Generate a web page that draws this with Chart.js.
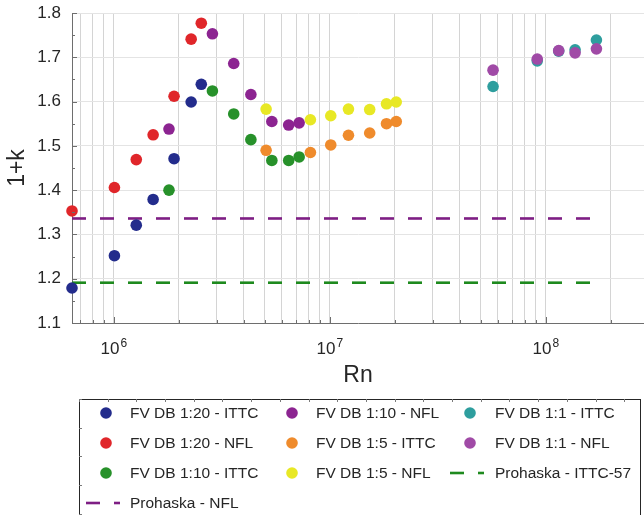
<!DOCTYPE html>
<html>
<head>
<meta charset="utf-8">
<script src="https://cdn.jsdelivr.net/npm/chart.js@4.4.0/dist/chart.umd.min.js"></script>
<style>
  html, body { margin: 0; padding: 0; background: #ffffff; }
  #wrap { width: 644px; height: 515px; }
</style>
</head>
<body>
<div id="wrap"><canvas id="c" width="644" height="515"></canvas></div>
<script>
// Form factor (1+k) against Reynolds number for each model scale and friction line
const rn20 = [6.4e5, 1.006e6, 1.27e6, 1.52e6, 1.90e6, 2.28e6, 2.54e6];
const k20Ittc = [1.179, 1.252, 1.321, 1.379, 1.471, 1.599, 1.639];
const k20Nfl = [1.353, 1.406, 1.469, 1.525, 1.612, 1.741, 1.777];

const rn10 = [1.80e6, 2.86e6, 3.59e6, 4.31e6, 5.39e6, 6.45e6, 7.21e6];
const k10Ittc = [1.400, 1.624, 1.572, 1.514, 1.467, 1.467, 1.475];
const k10Nfl = [1.538, 1.753, 1.686, 1.616, 1.555, 1.547, 1.552];

const rn5 = [5.07e6, 8.13e6, 1.01e7, 1.22e7, 1.53e7, 1.83e7, 2.03e7];
const k5Ittc = [1.490, 1.485, 1.502, 1.524, 1.529, 1.550, 1.555];
const k5Nfl = [1.583, 1.559, 1.568, 1.583, 1.582, 1.595, 1.599];

const rn1 = [5.70e7, 9.13e7, 1.148e8, 1.367e8, 1.716e8];
const k1Ittc = [1.634, 1.692, 1.714, 1.717, 1.739];
const k1Nfl = [1.671, 1.696, 1.715, 1.710, 1.719];

// Prohaska estimates, constant over the Reynolds range
const prohaskaRn = [6.4e5, 1.716e8];
const prohaskaIttc = [1.191, 1.191];
const prohaskaNfl = [1.336, 1.336];

const seriesLabels = [
  'FV DB 1:20 - ITTC', 'FV DB 1:20 - NFL', 'FV DB 1:10 - ITTC',
  'FV DB 1:10 - NFL', 'FV DB 1:5 - ITTC', 'FV DB 1:5 - NFL',
  'FV DB 1:1 - ITTC', 'FV DB 1:1 - NFL', 'Prohaska - ITTC-57', 'Prohaska - NFL'
];

const yTicks = [1.1, 1.2, 1.3, 1.4, 1.5, 1.6, 1.7, 1.8];
const xRange = [6.4e5, 2.85e8];

const colors = ['#232c8c', '#e0262a', '#27912a', '#8c2491', '#ef8b2c',
                '#e8e825', '#2e9e9e', '#a04aa6', '#1e8a1e', '#7e1e84'];

const FONT = '"Liberation Sans", Arial, Helvetica, sans-serif';
const TEXT = '#262626';

function pts(xs, ys) { return xs.map((x, i) => ({ x: x, y: ys[i] })); }

function scatterSet(i, xs, ys, order) {
  return {
    type: 'scatter', label: seriesLabels[i], data: pts(xs, ys),
    backgroundColor: colors[i], borderColor: colors[i], borderWidth: 0,
    pointRadius: 5.8, pointHoverRadius: 5.8, order: order, clip: false
  };
}
function dashSet(i, xs, ys) {
  return {
    type: 'line', label: seriesLabels[i], data: pts(xs, ys),
    borderColor: colors[i], backgroundColor: colors[i], borderWidth: 2.6,
    borderDash: [14, 14], pointRadius: 0, fill: false, order: 20, isDash: true
  };
}

const datasets = [
  scatterSet(0, rn20, k20Ittc, 10),
  scatterSet(1, rn20, k20Nfl, 9),
  scatterSet(2, rn10, k10Ittc, 8),
  scatterSet(3, rn10, k10Nfl, 7),
  scatterSet(4, rn5, k5Ittc, 6),
  scatterSet(5, rn5, k5Nfl, 5),
  scatterSet(6, rn1, k1Ittc, 4),
  scatterSet(7, rn1, k1Nfl, 3),
  dashSet(8, prohaskaRn, prohaskaIttc),
  dashSet(9, prohaskaRn, prohaskaNfl)
];

function isDecade(v) { const l = Math.log10(v); return Math.abs(l - Math.round(l)) < 1e-9; }

// Inward tick marks on both axes and power-of-ten labels with raised exponents
const axisDecor = {
  id: 'axisDecor',
  afterDraw(chart) {
    const ctx = chart.ctx, a = chart.chartArea;
    const xs = chart.scales.x, ys = chart.scales.y;
    ctx.save();
    ctx.strokeStyle = '#6e6e6e';
    ctx.lineWidth = 1;
    ctx.beginPath();
    xs.ticks.forEach(t => {
      const px = Math.round(xs.getPixelForValue(t.value)) + 0.5;
      const len = isDecade(t.value) ? 6 : 3;
      ctx.moveTo(px, a.bottom); ctx.lineTo(px, a.bottom - len);
    });
    for (let v = 1.1; v <= 1.8001; v += 0.05) {
      const py = Math.round(ys.getPixelForValue(v)) + 0.5;
      const major = Math.abs(v * 10 - Math.round(v * 10)) < 1e-6;
      ctx.moveTo(a.left, py); ctx.lineTo(a.left + (major ? 5 : 3), py);
    }
    ctx.stroke();

    ctx.fillStyle = TEXT;
    ctx.textBaseline = 'alphabetic';
    ctx.textAlign = 'left';
    xs.ticks.filter(t => isDecade(t.value)).forEach(t => {
      const px = xs.getPixelForValue(t.value);
      const exp = String(Math.round(Math.log10(t.value)));
      ctx.font = '17px ' + FONT;
      const wb = ctx.measureText('10').width;
      ctx.font = '12px ' + FONT;
      const we = ctx.measureText(exp).width;
      const x0 = px - (wb + we + 1) / 2;
      ctx.font = '17px ' + FONT;
      ctx.fillText('10', x0, a.bottom + 31);
      ctx.font = '12px ' + FONT;
      ctx.fillText(exp, x0 + wb + 1, a.bottom + 24);
    });
    ctx.restore();
  }
};

// Three-column legend in a framed box beneath the axes
const boxLegend = {
  id: 'boxLegend',
  afterDraw(chart) {
    const ctx = chart.ctx;
    const left = 79, top = 399, right = 640, bottom = 530;
    const markX = [106, 292, 470], textX = [130, 316, 495];
    const rowY = [413, 443, 473, 503];
    ctx.save();
    ctx.strokeStyle = '#262626';
    ctx.lineWidth = 1;
    ctx.strokeRect(left + 0.5, top + 0.5, right - left, bottom - top);
    ctx.beginPath();
    for (let x = left; x < right; x += 28.7) {
      const px = Math.round(x) + 0.5;
      ctx.moveTo(px, top); ctx.lineTo(px, top + 3);
    }
    for (let y = top; y < 515; y += 28.7) {
      const py = Math.round(y) + 0.5;
      ctx.moveTo(left, py); ctx.lineTo(left + 3, py);
    }
    ctx.strokeStyle = '#7a7a7a';
    ctx.stroke();
    ctx.font = '15.5px ' + FONT;
    ctx.textBaseline = 'middle';
    ctx.textAlign = 'left';
    chart.data.datasets.forEach((ds, i) => {
      const col = i < 9 ? Math.floor(i / 3) : 0;
      const row = i < 9 ? i % 3 : 3;
      const mx = markX[col], my = rowY[row];
      if (ds.isDash) {
        ctx.strokeStyle = ds.borderColor;
        ctx.lineWidth = 2.6;
        ctx.setLineDash([14, 14]);
        ctx.beginPath();
        ctx.moveTo(mx - 20, my); ctx.lineTo(mx + 14, my);
        ctx.stroke();
        ctx.setLineDash([]);
      } else {
        ctx.fillStyle = ds.backgroundColor;
        ctx.beginPath();
        ctx.arc(mx, my, 5.8, 0, Math.PI * 2);
        ctx.fill();
      }
      ctx.fillStyle = TEXT;
      ctx.fillText(ds.label, textX[col], my + 1);
    });
    ctx.restore();
  }
};

new Chart(document.getElementById('c'), {
  data: { datasets: datasets },
  plugins: [axisDecor, boxLegend],
  options: {
    responsive: false,
    animation: false,
    devicePixelRatio: 1,
    layout: { autoPadding: false, padding: { top: 13, right: 0, bottom: 126, left: 0 } },
    plugins: { legend: { display: false }, tooltip: { enabled: false } },
    scales: {
      x: {
        type: 'logarithmic',
        min: xRange[0], max: xRange[1],
        afterFit(s) { s.height = 66; s.paddingLeft = 0; s.paddingRight = 0; },
        afterBuildTicks(s) {
          const t = [];
          for (let e = Math.floor(Math.log10(s.min)); e <= Math.ceil(Math.log10(s.max)); e++) {
            for (let m = 1; m <= 9; m++) {
              const v = m * Math.pow(10, e);
              if (v >= s.min && v <= s.max) t.push({ value: v, major: m === 1 });
            }
          }
          s.ticks = t;
        },
        ticks: { display: false, autoSkip: false, maxRotation: 0, minRotation: 0 },
        grid: { color: '#d4d4d4', lineWidth: 1, drawTicks: false },
        border: { display: true, color: '#6e6e6e', width: 1 },
        title: { display: true, text: 'Rn', color: TEXT, font: { family: FONT, size: 23 }, padding: { top: 0, bottom: 0 } }
      },
      y: {
        type: 'linear',
        min: yTicks[0], max: yTicks[yTicks.length - 1],
        afterFit(s) { s.width = 72; s.paddingTop = 0; s.paddingBottom = 0; },
        afterBuildTicks(s) { s.ticks = yTicks.map(v => ({ value: v })); },
        ticks: {
          padding: 11, color: TEXT, font: { family: FONT, size: 17 },
          callback(v) { return v.toFixed(1); }
        },
        grid: { color: '#e4e4e4', lineWidth: 1, drawTicks: false },
        border: { display: true, color: '#6e6e6e', width: 1 },
        title: { display: true, text: '1+k', color: TEXT, font: { family: FONT, size: 23 }, padding: { top: 4, bottom: 0 } }
      }
    }
  }
});
</script>
</body>
</html>
